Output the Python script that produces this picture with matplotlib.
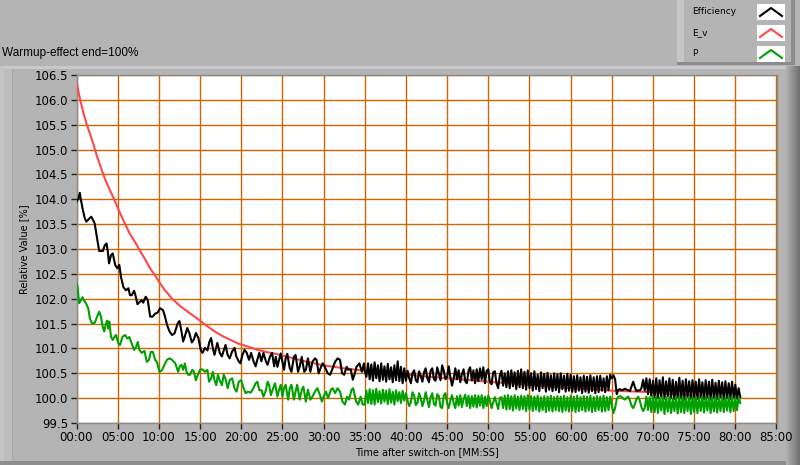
import numpy as np
import matplotlib
matplotlib.use('Agg')
import matplotlib.pyplot as plt
from matplotlib.patches import Rectangle
from matplotlib.lines import Line2D
from matplotlib.ticker import MultipleLocator, FuncFormatter

# ---- data (time in minutes, values in %) ----

# E_v (smooth decay)
ev_t = [0, 0.45, 0.85, 1.26, 1.67, 2.07, 2.48, 2.89, 3.5, 4.1, 4.7, 5.3, 5.9, 6.5,
        7.15, 7.76, 8.37, 8.98, 9.6, 10.6, 11.6, 12.6, 13.66, 14.67, 15.7, 16.7,
        17.7, 18.7, 19.76, 20.77, 22.0, 23.0, 24.2, 25.0, 27.5, 30.0, 32.5, 35.0,
        40.0, 45.0, 50.0, 55.0, 60.0, 65.0, 70.0, 75.0, 80.0, 80.5]
ev_v = [106.35, 106.0, 105.73, 105.5, 105.3, 105.1, 104.87, 104.67, 104.39, 104.17,
        103.95, 103.72, 103.5, 103.3, 103.13, 102.95, 102.78, 102.6, 102.45, 102.2,
        102.0, 101.85, 101.72, 101.6, 101.47, 101.35, 101.25, 101.17, 101.09, 101.04,
        100.97, 100.93, 100.89, 100.86, 100.75, 100.66, 100.6, 100.55, 100.47, 100.4,
        100.33, 100.27, 100.2, 100.15, 100.12, 100.04, 100.0, 99.99]

# Efficiency, first 35 minutes
eff_t = [0, 0.2, 0.4, 0.5, 0.73, 1.0, 1.2, 1.6, 1.8, 2.2, 2.5, 2.75, 3.2, 3.45, 3.65,
         3.8, 3.95, 4.2, 4.4, 4.7, 4.95, 5.2, 5.4, 5.7, 6.0, 6.3, 6.5, 6.7, 7.0, 7.2,
         7.4, 7.7, 7.9, 8.1, 8.4, 8.65, 8.95, 9.25, 9.55, 9.85, 10.15, 10.5, 10.7,
         11.0, 11.3, 11.6, 11.9, 12.3, 12.5, 12.75, 12.95, 13.15, 13.45, 13.7, 14.0,
         14.25, 14.5, 14.8, 15.1, 15.3, 15.6, 15.9, 16.15, 16.35, 16.55, 16.75,
         16.95, 17.1, 17.4, 17.65, 17.9, 18.1, 18.35, 18.6, 18.9, 19.2, 19.4, 19.7,
         19.9, 20.15, 20.4, 20.65, 20.95, 21.2, 21.5, 21.75, 22.0, 22.2, 22.45, 22.7,
         23.0, 23.2, 23.5, 23.75, 24.0, 24.2, 24.4, 24.6, 24.8, 25.0, 25.2, 25.4,
         25.6, 25.9, 26.1, 26.4, 26.6, 26.9, 27.1, 27.35, 27.65, 27.85, 28.1, 28.4,
         28.65, 28.95, 29.15, 29.4, 29.7, 29.9, 30.15, 30.5, 30.8, 31.1, 31.4, 31.7,
         32.0, 32.25, 32.5, 32.8, 33.0, 33.3, 33.55, 33.8, 34.0, 34.35, 34.65, 34.9,
         35.0]
eff_v = [103.95, 104.0, 104.13, 104.02, 103.82, 103.62, 103.55, 103.62, 103.65,
         103.52, 103.21, 102.96, 102.96, 103.08, 103.11, 102.95, 102.71, 102.88,
         102.91, 102.68, 102.61, 102.68, 102.44, 102.23, 102.17, 102.21, 102.07,
         102.07, 102.16, 102.04, 101.89, 101.94, 101.97, 101.92, 102.04, 101.97,
         101.64, 101.64, 101.70, 101.72, 101.81, 101.77, 101.67, 101.47, 101.34,
         101.27, 101.30, 101.51, 101.55, 101.34, 101.14, 101.24, 101.41, 101.31,
         101.12, 101.18, 101.31, 101.21, 100.96, 100.91, 101.01, 100.96, 101.14,
         101.21, 101.01, 100.87, 101.01, 101.11, 100.91, 100.84, 100.97, 101.07,
         100.87, 100.80, 100.94, 101.01, 100.84, 100.74, 100.70, 100.87, 100.97,
         100.92, 100.77, 100.91, 100.74, 100.64, 100.80, 100.91, 100.74, 100.91,
         100.74, 100.67, 100.84, 100.91, 100.64, 100.83, 100.63, 100.77, 100.90,
         100.73, 100.57, 100.80, 100.89, 100.60, 100.53, 100.83, 100.87, 100.53,
         100.63, 100.83, 100.53, 100.57, 100.80, 100.53, 100.73, 100.80, 100.77,
         100.50, 100.63, 100.70, 100.63, 100.50, 100.47, 100.60, 100.73, 100.80,
         100.77, 100.50, 100.47, 100.63, 100.57, 100.58, 100.37, 100.50, 100.63,
         100.70, 100.53, 100.70, 100.55]

# P, first 35 minutes
p_t = [0, 0.12, 0.33, 0.53, 0.73, 0.9, 1.14, 1.42, 1.63, 1.9, 2.24, 2.5, 2.76, 2.97,
       3.17, 3.37, 3.58, 3.74, 3.86, 3.98, 4.19, 4.4, 4.6, 4.8, 5.08, 5.28, 5.57,
       5.9, 6.18, 6.42, 6.7, 7.0, 7.24, 7.44, 7.64, 7.93, 8.25, 8.54, 8.8, 9.02,
       9.27, 9.55, 9.76, 10.08, 10.37, 10.65, 10.98, 11.3, 11.6, 12.0, 12.34,
       12.54, 12.75, 12.95, 13.16, 13.36, 13.57, 13.77, 14.06, 14.26, 14.5, 14.8,
       15.0, 15.3, 15.6, 15.9, 16.1, 16.35, 16.56, 16.76, 16.97, 17.17, 17.38,
       17.66, 17.87, 18.07, 18.36, 18.6, 18.9, 19.18, 19.43, 19.7, 20.0, 20.25,
       20.53, 20.82, 21.15, 21.48, 21.76, 21.97, 22.2, 22.46, 22.7, 23.0, 23.2,
       23.4, 23.6, 23.8, 24.1, 24.4, 24.6, 24.8, 25.0, 25.2, 25.4, 25.7, 25.9,
       26.1, 26.4, 26.6, 26.8, 27.1, 27.35, 27.55, 27.85, 28.1, 28.4, 28.65, 28.95,
       29.25, 29.55, 29.8, 30.0, 30.3, 30.55, 30.9, 31.1, 31.4, 31.7, 32.0, 32.3,
       32.6, 32.85, 33.1, 33.4, 33.6, 33.95, 34.2, 34.5, 34.75, 35.0]
p_v = [102.31, 102.24, 101.91, 101.97, 102.03, 101.97, 101.91, 101.81, 101.60,
       101.50, 101.52, 101.64, 101.74, 101.64, 101.44, 101.34, 101.50, 101.56,
       101.40, 101.54, 101.23, 101.17, 101.23, 101.27, 101.10, 101.07, 101.23,
       101.27, 101.20, 101.23, 101.10, 100.97, 101.03, 101.13, 100.97, 100.91,
       100.95, 100.73, 100.77, 100.93, 100.93, 100.77, 100.73, 100.53, 100.56,
       100.66, 100.77, 100.80, 100.77, 100.70, 100.53, 100.64, 100.67, 100.57,
       100.70, 100.53, 100.47, 100.47, 100.57, 100.53, 100.36, 100.50, 100.57,
       100.58, 100.53, 100.57, 100.33, 100.40, 100.53, 100.36, 100.26, 100.47,
       100.36, 100.26, 100.47, 100.40, 100.20, 100.36, 100.40, 100.20, 100.13,
       100.33, 100.36, 100.22, 100.10, 100.13, 100.11, 100.20, 100.30, 100.33,
       100.16, 100.16, 100.03, 100.16, 100.33, 100.26, 100.06, 100.16, 100.30,
       100.03, 100.17, 100.27, 100.03, 100.20, 100.27, 99.97, 100.20, 100.27,
       99.97, 100.13, 100.27, 99.97, 100.17, 100.23, 99.93, 100.17, 99.97, 100.03,
       100.13, 100.20, 100.07, 99.93, 100.03, 100.13, 100.00, 100.17, 100.20,
       100.10, 100.20, 100.13, 99.93, 99.87, 100.03, 99.97, 100.17, 100.20, 99.93,
       99.87, 100.03, 99.87, 99.87]

# after 35:00 the curves are sampled every 0.2 min, starting at 35.2
late_start = 35.2
late_step = 0.2
eff_late = [
    100.43, 100.70, 100.38, 100.68, 100.35, 100.72, 100.40, 100.66, 100.34, 100.70, 100.37, 100.64, 100.33,
    100.69, 100.38, 100.62, 100.32, 100.66, 100.36, 100.74, 100.34, 100.63, 100.30, 100.60, 100.35,
    100.55, 100.40, 100.30, 100.50, 100.56, 100.36, 100.32, 100.54, 100.45, 100.33, 100.52, 100.60, 100.40,
    100.32, 100.55, 100.60, 100.38, 100.35, 100.62, 100.50, 100.36, 100.66, 100.55, 100.38, 100.42,
    100.64, 100.42, 100.25, 100.40, 100.60, 100.38, 100.56, 100.32, 100.48, 100.58, 100.34, 100.30, 100.55,
    100.62, 100.36, 100.56, 100.30, 100.58, 100.34, 100.60, 100.38, 100.62, 100.30, 100.55, 100.58,
    100.32, 100.28, 100.52, 100.54, 100.30, 100.20, 100.45, 100.55, 100.25, 100.50, 100.22, 100.54, 100.20,
    100.56, 100.24, 100.52, 100.18, 100.55, 100.22, 100.58, 100.20, 100.53, 100.17, 100.56, 100.20,
    100.50, 100.15, 100.54, 100.18, 100.47, 100.14, 100.52, 100.20, 100.49, 100.13, 100.51, 100.17, 100.46,
    100.14, 100.50, 100.16, 100.48, 100.12, 100.50, 100.18, 100.45, 100.13, 100.49, 100.15, 100.47,
    100.13, 100.44, 100.12, 100.46, 100.15, 100.42, 100.10, 100.45, 100.13, 100.43, 100.11, 100.46, 100.14,
    100.42, 100.10, 100.44, 100.12, 100.45, 100.15, 100.40, 100.12, 100.44, 100.16, 100.47, 100.40,
    100.46, 100.38, 100.08, 100.17, 100.18, 100.16, 100.17, 100.19, 100.17, 100.16, 100.14, 100.24, 100.33,
    100.22, 100.14, 100.16, 100.15, 100.20, 100.37, 100.15, 100.40, 100.08, 100.38, 100.05, 100.35,
    100.02, 100.40, 100.00, 100.36, 100.03, 100.42, 99.99, 100.34, 100.04, 100.40, 100.00, 100.37, 99.98,
    100.33, 100.02, 100.41, 100.00, 100.35, 99.97, 100.38, 100.03, 100.34, 99.99, 100.36, 100.01,
    100.33, 99.98, 100.38, 100.02, 100.32, 99.98, 100.36, 100.01, 100.33, 99.97, 100.37, 100.00, 100.31,
    99.98, 100.35, 100.02, 100.32, 99.97, 100.34, 100.00, 100.30, 99.98, 100.33, 100.01, 100.27,
    99.99, 100.20, 100.02]
p_late = [
    100.15, 99.90, 100.18, 99.88, 100.16, 99.87, 100.19, 99.92, 100.14, 99.89, 100.17, 99.93, 100.15,
    99.88, 100.18, 99.91, 100.13, 99.87, 100.16, 99.94, 100.12, 99.90, 100.15, 99.95, 100.10,
    99.95, 99.84, 99.92, 100.12, 100.05, 99.86, 99.90, 100.10, 100.00, 99.84, 99.95, 100.12, 99.96,
    99.82, 100.02, 100.10, 99.88, 99.85, 100.08, 100.04, 99.82, 99.80, 100.05, 100.10, 99.90,
    99.80, 99.95, 100.06, 99.90, 99.80, 100.04, 99.85, 100.06, 99.82, 99.98, 100.07, 99.84, 100.05,
    99.80, 100.04, 99.83, 100.06, 99.81, 100.05, 99.85, 100.06, 99.80, 100.03, 99.84, 100.05,
    99.95, 99.80, 99.92, 100.02, 99.90, 99.78, 100.00, 100.02, 99.80, 100.05, 99.77, 100.06, 99.78,
    100.04, 99.75, 100.06, 99.79, 100.03, 99.76, 100.05, 99.78, 100.04, 99.74, 100.06, 99.77,
    100.04, 99.74, 100.03, 99.77, 100.05, 99.73, 100.02, 99.76, 100.04, 99.72, 100.03, 99.75, 100.05,
    99.73, 100.02, 99.76, 100.04, 99.74, 100.03, 99.72, 100.05, 99.75, 100.02, 99.73, 100.04,
    99.75, 100.03, 99.72, 100.05, 99.74, 100.02, 99.76, 100.04, 99.73, 100.03, 99.75, 100.05, 99.72,
    100.02, 99.74, 100.04, 99.76, 100.03, 99.73, 100.05, 99.74, 100.02, 99.76, 100.03, 99.85,
    99.70, 99.80, 99.98, 100.03, 100.04, 100.02, 99.99, 99.97, 100.01, 100.03, 99.95, 99.85, 99.80,
    99.88, 99.98, 100.03, 99.95, 99.82, 99.74, 99.80, 100.03, 99.76, 100.02, 99.72, 100.04,
    99.72, 100.03, 99.70, 100.01, 99.75, 100.04, 99.68, 100.02, 99.73, 100.03, 99.70, 99.99, 99.74,
    100.03, 99.69, 100.02, 99.72, 100.04, 99.70, 100.01, 99.74, 100.03, 99.68, 100.02, 99.72,
    100.03, 99.70, 100.01, 99.74, 100.03, 99.71, 100.02, 99.75, 100.03, 99.70, 100.01, 99.73, 100.03,
    99.71, 100.02, 99.74, 100.03, 99.72, 100.01, 99.75, 100.03, 99.72, 100.02, 99.74, 100.00,
    99.76, 100.02, 99.90]

series_names = ['Efficiency', 'E_v', 'P']
series_colors = ['#000000', '#ff4848', '#00a000']

# ---- figure ----
W, H = 800, 465
BG = '#b4b4b4'
fig = plt.figure(figsize=(W / 100, H / 100), dpi=100, facecolor=BG)


def px(x, y):
    # pixel (top-left origin) -> figure fraction
    return x / W, 1 - y / H


def prect(x0, y0, x1, y1, color, z=0):
    fx0, fy1 = px(x0, y0)
    fx1, fy0 = px(x1, y1)
    fig.add_artist(Rectangle((fx0, fy0), fx1 - fx0, fy1 - fy0, transform=fig.transFigure,
                             facecolor=color, edgecolor='none', zorder=z))


# frame bevels of the LabVIEW panel
prect(0, 66, 790, 69, '#c9c9c9')
prect(0, 66, 4, 465, '#c4c4c4')
prect(4, 69, 12, 462, '#bdbdbd')
prect(12, 69, 13, 462, '#a8a8a8')
prect(0, 461, 790, 465, '#8e8e8e')
for i, c in enumerate(['#adadad', '#a4a4a4', '#9a9a9a', '#909090', '#868686', '#7c7c7c', '#727272']):
    prect(786 + 2 * i, 66, 788 + 2 * i, 465, c)

# legend panel
prect(677, 0, 800, 64, '#b4b4b4', 1)
prect(677, 0, 684, 64, '#c6c6c6', 1)
prect(677, 62, 795, 65, '#8c8c8c', 1)
prect(791, 0, 795, 65, '#8c8c8c', 1)

ax = fig.add_axes([76.5 / W, 1 - 423 / H, (776.5 - 76.5) / W, (423 - 75) / H])
ax.set_facecolor('white')

late_t = late_start + late_step * np.arange(len(eff_late))
late_tp = late_start + late_step * np.arange(len(p_late))

ax.plot(ev_t, ev_v, color=series_colors[1], lw=1.5, zorder=3)
ax.plot(np.concatenate([eff_t, late_t]), eff_v + eff_late, color=series_colors[0], lw=1.5, zorder=4)
ax.plot(np.concatenate([p_t, late_tp]), p_v + p_late, color=series_colors[2], lw=1.5, zorder=5)

ax.set_xlim(0, 85)
ax.set_ylim(99.5, 106.5)
ax.xaxis.set_major_locator(MultipleLocator(5))
ax.yaxis.set_major_locator(MultipleLocator(0.5))
ax.xaxis.set_major_formatter(FuncFormatter(lambda v, p: '%02d:00' % int(round(v))))
ax.yaxis.set_major_formatter(FuncFormatter(lambda v, p: '%.1f' % v))
ax.grid(True, color='#cc6600', lw=1.0, zorder=1)
ax.set_axisbelow(True)
ax.tick_params(axis='both', direction='out', length=4, width=1, color='#202020',
               labelsize=8.5, labelcolor='black', pad=2)
for s in ax.spines.values():
    s.set_color('#8a8a8a')
    s.set_linewidth(1)

ax.set_xlabel('Time after switch-on [MM:SS]', fontsize=7, labelpad=2)
ax.set_ylabel('Relative Value [%]', fontsize=7, labelpad=4)

fig.text(2 / W, 1 - 53 / H, 'Warmup-effect end=100%', fontsize=8.5, va='center', ha='left',
         family='Liberation Sans')

# legend entries
rows = [12, 33, 54]
for name, col, yc in zip(series_names, series_colors, rows):
    fx, fy = px(692, yc)
    fig.text(fx, fy, name, fontsize=6.5, va='center', ha='left', zorder=3)
    x0, y0, x1, y1 = 757, yc - 8, 785, yc + 8
    prect(x0, y0, x1, y1, '#ffffff', 2)
    xs = [x0 + 3, (x0 + x1) / 2, x1 - 3]
    ys = [y1 - 4, y0 + 4, y1 - 4]
    pts = [px(a, b) for a, b in zip(xs, ys)]
    fig.add_artist(Line2D([p[0] for p in pts], [p[1] for p in pts], transform=fig.transFigure,
                          color=col, lw=1.5, zorder=3))

fig.savefig('out.png', dpi=100, facecolor=BG)
